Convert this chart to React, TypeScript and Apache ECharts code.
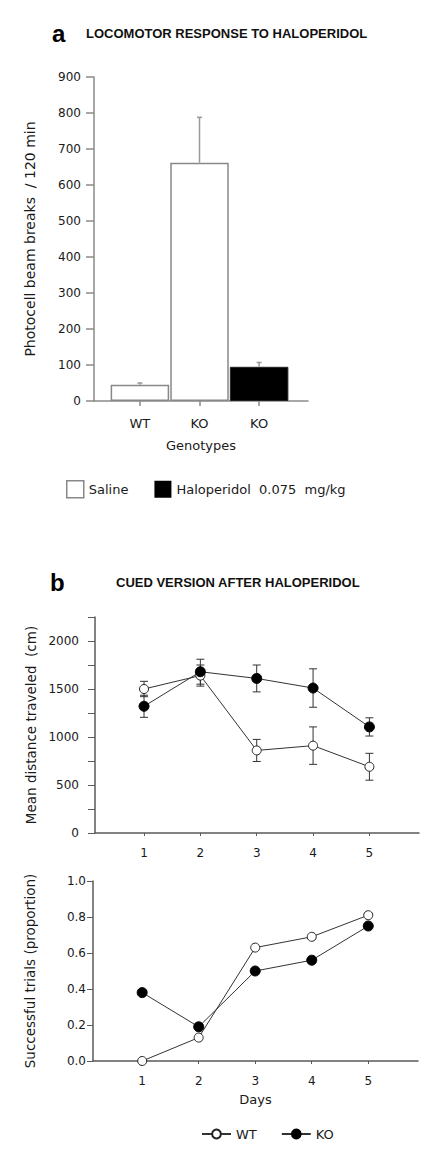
import React, { useEffect, useRef } from 'react';
import * as echarts from 'echarts';

// ---------- Panel a: locomotor response ----------
const genotypes = ['WT', 'KO', 'KO'];
const salineGroups = [1, 2]; // positions of WT, KO (saline)
const salineMeans = [45, 662];
const salineErr = [5, 126];
const haloGroups = [3]; // KO (haloperidol)
const haloMeans = [95];
const haloErr = [12];
const barTicks = [0, 100, 200, 300, 400, 500, 600, 700, 800, 900];

// ---------- Panel b: cued version ----------
const days = [1, 2, 3, 4, 5];
const distWT = [1500, 1640, 860, 910, 690];
const distWTErr = [80, 110, 115, 195, 140];
const distKO = [1320, 1680, 1610, 1510, 1105];
const distKOErr = [115, 130, 140, 200, 95];
const succWT = [0.0, 0.13, 0.63, 0.69, 0.81];
const succKO = [0.38, 0.19, 0.5, 0.56, 0.75];

const SALINE = 'Saline';
const HALO = 'Haloperidol  0.075  mg/kg';

const TXT = '#1a1a1a';
const LBL_FONT = 'DejaVu Sans';

function makeBarErr(color: string, half: number) {
  return (params: any, api: any) => {
    const x = api.value(0);
    const y = api.value(1);
    const e = api.value(2);
    const p0 = api.coord([x, y]);
    const p1 = api.coord([x, y + e]);
    return {
      type: 'group',
      children: [
        { type: 'line', shape: { x1: p0[0], y1: p0[1], x2: p1[0], y2: p1[1] }, style: { stroke: color, lineWidth: 1.5 } },
        { type: 'line', shape: { x1: p1[0] - half, y1: p1[1], x2: p1[0] + half, y2: p1[1] }, style: { stroke: color, lineWidth: 1.5 } },
      ],
    };
  };
}

function makeSymErr(color: string, half: number) {
  return (params: any, api: any) => {
    const x = api.value(0);
    const y = api.value(1);
    const e = api.value(2);
    const pHi = api.coord([x, y + e]);
    const pLo = api.coord([x, y - e]);
    const st = { stroke: color, lineWidth: 1 };
    return {
      type: 'group',
      children: [
        { type: 'line', shape: { x1: pHi[0], y1: pHi[1], x2: pLo[0], y2: pLo[1] }, style: st },
        { type: 'line', shape: { x1: pHi[0] - half, y1: pHi[1], x2: pHi[0] + half, y2: pHi[1] }, style: st },
        { type: 'line', shape: { x1: pLo[0] - half, y1: pLo[1], x2: pLo[0] + half, y2: pLo[1] }, style: st },
      ],
    };
  };
}

const axisNameStyle = { fontFamily: LBL_FONT, fontSize: 13.5, color: TXT };

export default function App() {
  const ref = useRef<HTMLDivElement>(null);

  useEffect(() => {
    document.body.style.margin = '0';
    if (!ref.current) return;
    const chart = echarts.init(ref.current, undefined, { renderer: 'svg' });

    const aAxisColor = '#8a8a8a';
    const bAxisColor = '#5a5a5a';

    const option: any = {
      animation: false,
      backgroundColor: '#fff',
      graphic: [
        { type: 'text', x: 52, y: 33, style: { text: 'a', fontFamily: 'Liberation Sans', fontWeight: 'bold', fontSize: 24, fill: '#000', verticalAlign: 'middle' } },
        { type: 'text', x: 86, y: 33, style: { text: 'LOCOMOTOR RESPONSE TO HALOPERIDOL', fontFamily: 'Liberation Sans', fontWeight: 'bold', fontSize: 13, fill: '#111', verticalAlign: 'middle' } },
        { type: 'text', x: 50, y: 582.5, style: { text: 'b', fontFamily: 'Liberation Sans', fontWeight: 'bold', fontSize: 24, fill: '#000', verticalAlign: 'middle' } },
        { type: 'text', x: 116, y: 582.5, style: { text: 'CUED VERSION AFTER HALOPERIDOL', fontFamily: 'Liberation Sans', fontWeight: 'bold', fontSize: 13, fill: '#111', verticalAlign: 'middle' } },
      ],
      legend: [
        {
          left: 61,
          top: 475,
          orient: 'horizontal',
          itemWidth: 17,
          itemHeight: 17,
          itemGap: 26,
          icon: 'rect',
          textStyle: { fontFamily: LBL_FONT, fontSize: 13, color: TXT },
          data: [
            { name: SALINE, itemStyle: { color: '#fff', borderColor: '#888', borderWidth: 1.5 } },
            { name: HALO, itemStyle: { color: '#000', borderColor: '#000', borderWidth: 0 } },
          ],
          selectedMode: false,
        },
        {
          left: 196,
          top: 1122.5,
          itemWidth: 29,
          itemHeight: 11,
          itemGap: 24,
          textStyle: { fontFamily: LBL_FONT, fontSize: 13, color: TXT },
          data: ['WT', 'KO'],
          selectedMode: false,
        },
      ],
      grid: [
        { left: 94, top: 77, width: 214, height: 324 },
        { left: 95, top: 617, width: 324, height: 216 },
        { left: 93, top: 881, width: 325, height: 180 },
      ],
      xAxis: [
        {
          gridIndex: 0,
          type: 'value',
          min: 0.23,
          max: 3.82,
          name: 'Genotypes',
          nameLocation: 'middle',
          nameGap: 38,
          nameTextStyle: { fontFamily: LBL_FONT, fontSize: 13, color: TXT },
          axisLine: { lineStyle: { color: aAxisColor, width: 1.5 } },
          axisTick: { show: true, length: 5, customValues: [1, 2, 3], lineStyle: { color: aAxisColor, width: 1.5 } },
          axisLabel: {
            customValues: [1, 2, 3],
            margin: 16,
            fontFamily: LBL_FONT,
            fontSize: 13,
            color: TXT,
            formatter: (v: number) => genotypes[Math.round(v) - 1] ?? '',
          },
          splitLine: { show: false },
        },
        {
          gridIndex: 1,
          type: 'value',
          min: 0.13,
          max: 5.88,
          axisLine: { lineStyle: { color: bAxisColor, width: 1.5 } },
          axisTick: { show: true, length: 3, customValues: days, lineStyle: { color: bAxisColor, width: 1 } },
          axisLabel: {
            customValues: days,
            margin: 14,
            fontFamily: LBL_FONT,
            fontSize: 12,
            color: TXT,
            formatter: (v: number) => (Number.isInteger(v) ? String(v) : ''),
          },
          splitLine: { show: false },
        },
        {
          gridIndex: 2,
          type: 'value',
          min: 0.13,
          max: 5.88,
          name: 'Days',
          nameLocation: 'middle',
          nameGap: 32,
          nameTextStyle: { fontFamily: LBL_FONT, fontSize: 13, color: TXT },
          axisLine: { lineStyle: { color: bAxisColor, width: 1.5 } },
          axisTick: { show: true, length: 3, customValues: days, lineStyle: { color: bAxisColor, width: 1 } },
          axisLabel: {
            customValues: days,
            margin: 14,
            fontFamily: LBL_FONT,
            fontSize: 12,
            color: TXT,
            formatter: (v: number) => (Number.isInteger(v) ? String(v) : ''),
          },
          splitLine: { show: false },
        },
      ],
      yAxis: [
        {
          gridIndex: 0,
          type: 'value',
          min: barTicks[0],
          max: barTicks[barTicks.length - 1],
          interval: 100,
          name: 'Photocell beam breaks  / 120 min',
          nameLocation: 'middle',
          nameGap: 57,
          nameTextStyle: { ...axisNameStyle, fontSize: 14 },
          axisLine: { show: true, lineStyle: { color: aAxisColor, width: 1.5 } },
          axisTick: { show: true, length: 8, lineStyle: { color: aAxisColor, width: 1.5 } },
          axisLabel: { margin: 13, fontFamily: LBL_FONT, fontSize: 12, color: TXT },
          splitLine: { show: false },
        },
        {
          gridIndex: 1,
          type: 'value',
          min: 0,
          max: 2250,
          interval: 250,
          name: 'Mean distance traveled  (cm)',
          nameLocation: 'middle',
          nameGap: 57,
          nameTextStyle: axisNameStyle,
          axisLine: { show: true, lineStyle: { color: bAxisColor, width: 1.5 } },
          axisTick: { show: true, length: 7, lineStyle: { color: bAxisColor, width: 1 } },
          axisLabel: {
            margin: 16,
            fontFamily: LBL_FONT,
            fontSize: 12,
            color: TXT,
            formatter: (v: number) => (v % 500 === 0 && v <= 2000 ? String(v) : ''),
          },
          splitLine: { show: false },
        },
        {
          gridIndex: 2,
          type: 'value',
          min: 0,
          max: 1,
          interval: 0.2,
          name: 'Successful trials (proportion)',
          nameLocation: 'middle',
          nameGap: 56,
          nameTextStyle: axisNameStyle,
          axisLine: { show: true, lineStyle: { color: bAxisColor, width: 1.5 } },
          axisTick: { show: true, length: 6, lineStyle: { color: bAxisColor, width: 1 } },
          axisLabel: {
            margin: 7,
            fontFamily: LBL_FONT,
            fontSize: 12,
            color: TXT,
            formatter: (v: number) => v.toFixed(1),
          },
          splitLine: { show: false },
        },
      ],
      series: [
        {
          name: SALINE,
          type: 'bar',
          xAxisIndex: 0,
          yAxisIndex: 0,
          barWidth: 58.5,
          barGap: '-100%',
          itemStyle: { color: '#fff', borderColor: '#888', borderWidth: 1.5 },
          data: salineGroups.map((g, i) => [g, salineMeans[i]]),
          z: 2,
        },
        {
          name: HALO,
          type: 'bar',
          xAxisIndex: 0,
          yAxisIndex: 0,
          barWidth: 58.5,
          barGap: '-100%',
          itemStyle: { color: '#000', borderColor: '#222', borderWidth: 1 },
          data: haloGroups.map((g, i) => [g, haloMeans[i]]),
          z: 2,
        },
        {
          name: 'barErr',
          type: 'custom',
          xAxisIndex: 0,
          yAxisIndex: 0,
          renderItem: makeBarErr('#999', 2.5),
          data: [
            ...salineGroups.map((g, i) => [g, salineMeans[i], salineErr[i]]),
            ...haloGroups.map((g, i) => [g, haloMeans[i], haloErr[i]]),
          ],
          z: 3,
          silent: true,
        },
        {
          name: 'distErrWT',
          type: 'custom',
          xAxisIndex: 1,
          yAxisIndex: 1,
          renderItem: makeSymErr('#333', 4),
          data: days.map((d, i) => [d, distWT[i], distWTErr[i]]),
          z: 1,
          silent: true,
        },
        {
          name: 'distErrKO',
          type: 'custom',
          xAxisIndex: 1,
          yAxisIndex: 1,
          renderItem: makeSymErr('#333', 4),
          data: days.map((d, i) => [d, distKO[i], distKOErr[i]]),
          z: 1,
          silent: true,
        },
        {
          name: 'WT',
          type: 'line',
          xAxisIndex: 1,
          yAxisIndex: 1,
          symbol: 'circle',
          symbolSize: 9,
          lineStyle: { color: '#333', width: 1 },
          itemStyle: { color: '#fff', borderColor: '#222', borderWidth: 1 },
          data: days.map((d, i) => [d, distWT[i]]),
          z: 3,
        },
        {
          name: 'KO',
          type: 'line',
          xAxisIndex: 1,
          yAxisIndex: 1,
          symbol: 'circle',
          symbolSize: 10,
          lineStyle: { color: '#333', width: 1 },
          itemStyle: { color: '#000', borderColor: '#000', borderWidth: 1 },
          data: days.map((d, i) => [d, distKO[i]]),
          z: 4,
        },
        {
          name: 'WT',
          type: 'line',
          xAxisIndex: 2,
          yAxisIndex: 2,
          symbol: 'circle',
          symbolSize: 9,
          lineStyle: { color: '#333', width: 1 },
          itemStyle: { color: '#fff', borderColor: '#222', borderWidth: 1 },
          data: days.map((d, i) => [d, succWT[i]]),
          z: 3,
        },
        {
          name: 'KO',
          type: 'line',
          xAxisIndex: 2,
          yAxisIndex: 2,
          symbol: 'circle',
          symbolSize: 10,
          lineStyle: { color: '#333', width: 1 },
          itemStyle: { color: '#000', borderColor: '#000', borderWidth: 1 },
          data: days.map((d, i) => [d, succKO[i]]),
          z: 4,
        },
      ],
    };

    chart.setOption(option);
    return () => {
      chart.dispose();
    };
  }, []);

  return <div ref={ref} style={{ width: 438, height: 1172 }} />;
}
